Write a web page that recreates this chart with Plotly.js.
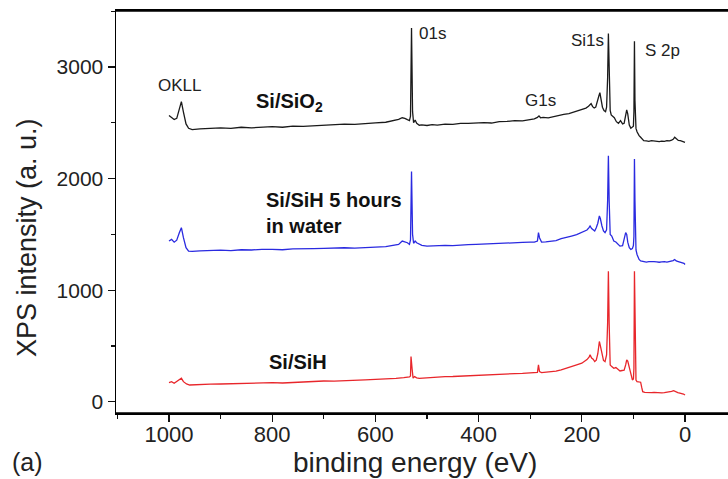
<!DOCTYPE html>
<html>
<head>
<meta charset="utf-8">
<script src="https://cdn.plot.ly/plotly-3.0.1.min.js"></script>
<style>html,body{margin:0;padding:0;background:#fff;}#chart{width:728px;height:479px;}</style>
</head>
<body>
<div id="chart"></div>
<script>
// Binding energy (eV) and XPS intensity (a.u.)
const energySiO2 = [
  1000,995,990,985,980,976,972,967,962,955,
  940,920,900,880,860,840,820,800,780,760,
  740,720,700,680,660,640,620,600,580,565,
  555,548,543,538,534,532,530,528,526,523,
  520,515,510,500,490,480,465,450,435,420,
  405,390,375,360,345,330,315,300,292,286,
  283,280,275,265,255,245,235,225,215,205,
  198,192,187,184,182,179,176,173,170,167,
  165,163,160,157,154,152,150,148.5,147,145,
  143,140,137,133,129,125,121,118,115,113,
  111,108,105,102,100,99,98,97,95,93,
  91,89,86,83,80,75,70,65,60,55,
  50,45,40,35,30,26,23,20,17,13,
  9,5,2,0];
const intensitySiO2 = [
  2565,2550,2529,2540,2625,2690,2595,2490,2451,2439,
  2445,2452,2455,2450,2460,2455,2462,2466,2460,2470,
  2468,2474,2478,2482,2488,2486,2495,2500,2505,2518,
  2530,2545,2540,2528,2520,2560,3350,2600,2500,2525,
  2495,2478,2482,2476,2484,2480,2488,2486,2494,2495,
  2500,2502,2498,2510,2512,2520,2518,2530,2535,2548,
  2562,2545,2548,2545,2556,2562,2575,2582,2598,2610,
  2622,2632,2648,2662,2672,2645,2632,2640,2680,2740,
  2770,2720,2640,2610,2600,2640,2900,3300,2900,2610,
  2570,2553,2545,2510,2495,2520,2490,2495,2560,2615,
  2580,2480,2452,2462,2470,2600,3230,2700,2450,2420,
  2400,2385,2370,2350,2340,2338,2334,2340,2336,2338,
  2332,2336,2334,2340,2338,2345,2352,2370,2356,2342,
  2340,2336,2330,2325];

const energyWater = [
  1000,995,990,985,980,976,972,967,962,955,
  940,920,900,880,860,840,820,800,780,760,
  740,720,700,680,660,640,620,600,580,565,
  555,548,543,538,534,532,530,528,526,523,
  520,515,510,500,490,480,465,450,435,420,
  405,390,375,360,345,330,315,300,292,286,
  284,282,278,270,260,250,240,230,220,210,
  200,195,190,186,184,181,178,175,172,169,
  166,164,161,158,155,152,150,148.5,147,145,
  142,138,134,130,126,121,118,115,113,111,
  108,105,102,100,99,98,97,95,93,91,
  89,86,83,80,75,70,65,60,55,50,
  45,40,35,30,26,23,20,17,13,9,
  5,2,0];
const intensityWater = [
  1440,1455,1430,1448,1515,1560,1470,1380,1350,1348,
  1352,1356,1359,1355,1362,1360,1366,1365,1362,1370,
  1368,1372,1374,1378,1380,1377,1384,1386,1390,1398,
  1410,1440,1432,1425,1410,1450,2063,1500,1420,1440,
  1425,1410,1402,1395,1398,1396,1401,1399,1406,1408,
  1410,1412,1416,1419,1421,1425,1428,1431,1430,1440,
  1515,1470,1431,1433,1440,1444,1461,1470,1485,1498,
  1515,1526,1539,1560,1575,1552,1540,1530,1560,1600,
  1665,1640,1575,1530,1515,1540,1800,2205,1800,1500,
  1485,1440,1432,1410,1395,1398,1455,1515,1500,1430,
  1380,1365,1372,1400,1480,2175,1800,1360,1320,1290,
  1275,1262,1258,1254,1252,1256,1253,1256,1254,1250,
  1253,1256,1252,1255,1258,1265,1275,1262,1256,1252,
  1248,1240,1230];

const energySiH = [
  1000,995,990,985,980,976,972,966,960,950,
  940,920,900,880,860,840,820,800,780,760,
  740,720,700,680,660,640,620,600,580,560,
  545,538,534,532,531,529,527,524,520,515,
  510,500,490,480,465,450,435,420,405,390,
  375,360,345,330,315,300,292,286,284,282,
  278,270,260,250,240,230,220,210,200,195,
  190,186,184,181,178,175,172,169,166,164,
  161,158,155,152,150,148.5,147,145,142,138,
  134,130,126,122,118,115,113,111,108,105,
  102,100,99,98,97,95,93,91,89,86,
  84,82,78,74,70,65,60,55,50,45,
  40,35,30,26,22,18,14,10,6,3,
  0];
const intensitySiH = [
  171,180,165,180,195,210,180,159,150,153,
  155,158,159,162,160,164,166,171,168,174,
  176,180,186,184,190,192,196,201,204,210,
  216,219,222,230,405,300,212,225,214,210,
  212,214,218,221,225,226,230,234,236,238,
  243,246,249,252,254,255,258,262,330,270,
  261,264,270,275,285,298,315,330,345,360,
  378,400,420,392,381,360,372,430,540,500,
  435,370,360,420,700,1170,700,330,315,300,
  306,290,276,280,282,330,375,365,300,240,
  195,205,300,1170,700,195,180,178,180,175,
  130,90,84,82,84,81,83,80,82,79,
  81,84,87,92,99,88,82,78,74,69,
  60];

const xTickVals = [1000,800,600,400,200,0];
const yTickVals = [0,1000,2000,3000];

const fam = 'Liberation Sans, Arial, sans-serif';
const labelFont = {family:fam, size:17, color:'#222'};
const seriesFont = {family:fam, size:20, color:'#111', weight:'bold'};

const traces = [
  {x: energySiO2, y: intensitySiO2, mode:'lines', line:{color:'#1a1a1a', width:1.3}, hoverinfo:'skip'},
  {x: energyWater, y: intensityWater, mode:'lines', line:{color:'#2a2ae0', width:1.3}, hoverinfo:'skip'},
  {x: energySiH, y: intensitySiH, mode:'lines', line:{color:'#e8262b', width:1.3}, hoverinfo:'skip'}
];

const xr = [1102.7, -83.3];
const yr = [-101, 3502];
const layout = {
  width:728, height:479,
  margin:{l:116, r:0, t:11, b:66},
  paper_bgcolor:'#fff', plot_bgcolor:'#fff',
  showlegend:false,
  font:{family:fam, color:'#222'},
  xaxis:{
    range:xr, showgrid:false, zeroline:false,
    showline:true, mirror:true, linecolor:'#000', linewidth:1.6,
    ticks:'outside', ticklen:7, tickwidth:1.3, tickcolor:'#111',
    tickmode:'array', tickvals:xTickVals,
    minor:{dtick:100, tick0:0, ticks:'outside', ticklen:4, tickwidth:1.2, tickcolor:'#111'},
    tickfont:{size:22, color:'#222'},
    ticklabelstandoff:-6,
    automargin:false
  },
  xaxis2:{
    range:xr, overlaying:'x', side:'top', anchor:'y2', showgrid:false, zeroline:false,
    showline:false,
    ticks:'inside', ticklen:7, tickwidth:1.3, tickcolor:'#111',
    tickmode:'array', tickvals:xTickVals, showticklabels:false,
    minor:{dtick:100, tick0:0, ticks:'inside', ticklen:4, tickwidth:1.2, tickcolor:'#111'},
    automargin:false
  },
  yaxis:{
    range:yr, showgrid:false, zeroline:false,
    showline:true, linecolor:'#000', linewidth:1.5,
    ticks:'outside', ticklen:7, tickwidth:1.3, tickcolor:'#111',
    tickmode:'array', tickvals:yTickVals,
    minor:{dtick:500, tick0:0, ticks:'outside', ticklen:4, tickwidth:1.2, tickcolor:'#111'},
    tickfont:{size:21, color:'#222'},
    automargin:false
  },
  yaxis2:{
    range:yr, overlaying:'y', anchor:'x2', side:'right', showgrid:false, zeroline:false,
    showline:false, ticks:'', showticklabels:false, automargin:false
  },
  // top and bottom frame lines of the plot area
  shapes:[
    {type:'line', xref:'paper', yref:'paper', x0:0, x1:1, y0:0, y1:0, line:{color:'#000', width:1.6}, layer:'above'},
    {type:'line', xref:'paper', yref:'paper', x0:0, x1:1, y0:1, y1:1, line:{color:'#000', width:1.6}, layer:'above'}
  ],
  annotations:[
    {x:978.7, y:2838, xref:'x', yref:'y', text:'OKLL', showarrow:false, font:labelFont, xanchor:'center', yanchor:'middle'},
    {x:519, y:3304, xref:'x', yref:'y', text:'01s', showarrow:false, font:labelFont, xanchor:'left', yanchor:'middle'},
    {x:281, y:2704, xref:'x', yref:'y', text:'G1s', showarrow:false, font:labelFont, xanchor:'center', yanchor:'middle'},
    {x:153, y:3242, xref:'x', yref:'y', text:'Si1s', showarrow:false, font:labelFont, xanchor:'right', yanchor:'middle'},
    {x:81.4, y:3152, xref:'x', yref:'y', text:'S 2p', showarrow:false, font:labelFont, xanchor:'left', yanchor:'middle'},
    {x:836, y:2686, xref:'x', yref:'y', text:'Si/SiO<sub>2</sub>', showarrow:false, font:seriesFont, xanchor:'left', yanchor:'middle'},
    {x:816, y:1691, xref:'x', yref:'y', text:'Si/SiH 5 hours<br>in water', showarrow:false, font:seriesFont, xanchor:'left', yanchor:'middle', align:'left'},
    {x:810, y:355, xref:'x', yref:'y', text:'Si/SiH', showarrow:false, font:seriesFont, xanchor:'left', yanchor:'middle'},
    {x:0, y:0, xref:'paper', yref:'paper', text:'(a)', showarrow:false, font:{family:fam, size:25, color:'#222'}, xanchor:'left', yanchor:'middle'},
    {x:0, y:0, xref:'paper', yref:'paper', text:'XPS intensity (a. u.)', textangle:-90, showarrow:false, font:{family:fam, size:27, color:'#222'}, xanchor:'center', yanchor:'middle'},
    {x:0, y:0, xref:'paper', yref:'paper', text:'binding energy (eV)', showarrow:false, font:{family:fam, size:28, color:'#222'}, xanchor:'center', yanchor:'middle'}
  ]
};
// pixel positions of "(a)" and the axis titles converted to paper coordinates
const pw = 728-116, ph = 479-11-66;
const toPX = px => (px-116)/pw, toPY = py => (479-66-py)/ph;
layout.annotations[8].x = toPX(10);   layout.annotations[8].y = toPY(462);
layout.annotations[9].x = toPX(27);   layout.annotations[9].y = toPY(238);
layout.annotations[10].x = toPX(415); layout.annotations[10].y = toPY(462);

Plotly.newPlot('chart', traces, layout, {staticPlot:true, displayModeBar:false});
</script>
</body>
</html>
